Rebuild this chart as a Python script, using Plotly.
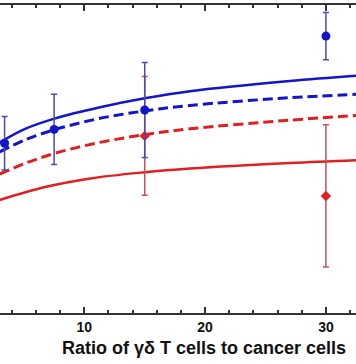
import plotly.graph_objects as go

# Measured points (ratio of γδ T cells to cancer cells vs. response, arbitrary units)
blue_x = [3.4, 7.5, 15, 30]
blue_y = [55.1, 59.6, 65.9, 89.9]
blue_err = [8.7, 11.4, 15.4, 7.7]

red_x = [15, 30]
red_y = [57.5, 38.0]
red_err = [19.3, 23.1]

# Fitted curves
blue_solid_x = [3.0, 5.1, 7.6, 11.3, 15.0, 18.75, 27.0, 32.5]
blue_solid_y = [55.4, 59.8, 63.2, 66.8, 69.7, 72.0, 75.3, 77.0]

blue_dash_x = [3.0, 5.1, 7.6, 11.3, 15.0, 18.75, 27.0, 32.5]
blue_dash_y = [52.3, 56.2, 59.6, 63.2, 65.6, 67.4, 69.9, 71.0]

red_dash_x = [3.0, 5.1, 7.6, 11.3, 15.0, 18.75, 27.0, 32.5]
red_dash_y = [45.1, 48.6, 51.9, 55.4, 57.9, 59.8, 62.6, 64.1]

red_solid_x = [3.0, 6.75, 10.5, 15.0, 18.75, 27.0, 32.5]
red_solid_y = [36.7, 40.9, 43.7, 45.7, 46.9, 48.7, 49.6]

x_title = "Ratio of γδ T cells to cancer cells"

BLUE = "#1414c8"
RED = "#e02020"
FONT = "Liberation Sans, Arial, sans-serif"

fig = go.Figure()

fig.add_trace(go.Scatter(x=red_solid_x, y=red_solid_y, mode="lines", line_shape="spline",
                         line=dict(color=RED, width=2.5)))
fig.add_trace(go.Scatter(x=red_dash_x, y=red_dash_y, mode="lines", line_shape="spline",
                         line=dict(color=RED, width=3, dash="10px,5px")))
fig.add_trace(go.Scatter(x=blue_dash_x, y=blue_dash_y, mode="lines", line_shape="spline",
                         line=dict(color=BLUE, width=3, dash="10px,5px")))
fig.add_trace(go.Scatter(x=blue_solid_x, y=blue_solid_y, mode="lines", line_shape="spline",
                         line=dict(color=BLUE, width=2.5)))

fig.add_trace(go.Scatter(x=red_x, y=red_y, mode="markers",
                         marker=dict(symbol="diamond", size=8, color=RED),
                         error_y=dict(type="data", array=red_err, color="#c8505a",
                                      thickness=1.5, width=3)))
fig.add_trace(go.Scatter(x=blue_x, y=blue_y, mode="markers",
                         marker=dict(symbol="circle", size=9, color=BLUE),
                         error_y=dict(type="data", array=blue_err, color="#4a4ab4",
                                      thickness=1.5, width=3)))

fig.add_annotation(text=x_title, xref="paper", yref="paper", x=0.573, y=0,
                   yshift=-35, yanchor="middle", showarrow=False,
                   font=dict(family=FONT, size=18, color="#111", weight="bold"))

fig.update_layout(
    width=356, height=364,
    margin=dict(l=0, r=0, t=5, b=51),
    paper_bgcolor="white", plot_bgcolor="white",
    showlegend=False,
    xaxis=dict(range=[3.02, 32.49], showgrid=False, zeroline=False,
               showline=True, linecolor="#333", linewidth=1.5, mirror="ticks",
               ticks="inside", ticklen=6, tickwidth=1.5, tickcolor="#333",
               dtick=10, tick0=0,
               minor=dict(dtick=2, tick0=0, ticks="inside", ticklen=3,
                          tickwidth=1.5, tickcolor="#333", showgrid=False),
               tickfont=dict(family=FONT, size=14, color="#111", weight="bold")),
    yaxis=dict(range=[0, 100], visible=False, showgrid=False, zeroline=False),
)

fig.write_html("out.html", config={"displayModeBar": False},
               post_script="document.body.style.margin='0px';document.body.style.overflow='hidden';")
